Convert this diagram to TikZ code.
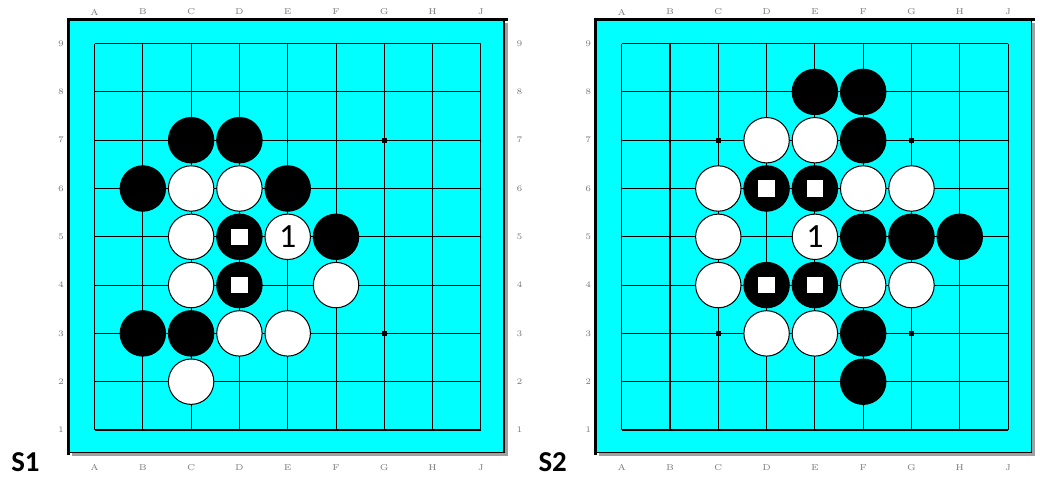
\documentclass[tikz,border=0pt]{standalone}
\usepackage{fontspec}
\newfontfamily\stonefont{Carlito}
\usetikzlibrary{positioning}
\definecolor{boardcyan}{HTML}{00FFFF}
\definecolor{shadowgray}{HTML}{A0A0A0}
\definecolor{labelgray}{HTML}{7A7A7A}

\tikzset{
  gridline/.style={line width=0.6pt},
  bstone/.style={circle, draw=black, fill=black, line width=0.6pt, minimum size=0.94cm, inner sep=0pt},
  wstone/.style={circle, draw=black, fill=white, line width=0.6pt, minimum size=0.94cm, inner sep=0pt,
    font=\stonefont\fontsize{20}{20}\selectfont},
  marker/.style={fill=white, minimum size=0.34cm, inner sep=0pt},
  starpoint/.style={fill=black, minimum size=0.1cm, inner sep=0pt},
  coordlabel/.style={font=\fontsize{5}{5}\selectfont, text=labelgray, inner sep=0pt},
  boardname/.style={font=\stonefont\bfseries\fontsize{17}{17}\selectfont, inner sep=0pt},
}

\begin{document}
\begin{tikzpicture}
    \useasboundingbox (-1.957,-1.014) rectangle (19.576,8.903);

    % Two boards: frame, grid, star points, coordinates
    \foreach \b/\off in {1/0, 2/10.915} {
      \begin{scope}[xshift=\off cm]
        \fill[shadowgray] (-0.466,-0.538) rectangle (8.555,8.427);
        \fill[boardcyan] (-0.528,-0.476) rectangle (8.478,8.489);
        \draw[line width=0.6pt] (-0.528,-0.476) -- (8.478,-0.476) -- (8.478,8.495);
        \draw[line width=1.8pt] (-0.534,-0.518) -- (-0.534,8.495) -- (8.555,8.495);
        \foreach \i in {0,...,8} {
          \draw[gridline] (\i,0) -- (\i,8);
          \draw[gridline] (0,\i) -- (8,\i);
        }
        \foreach \x/\y in {2/2, 2/6, 6/2, 6/6}
          \node[starpoint] (b\b-star-\x-\y) at (\x,\y) {};
        \foreach \c [count=\i from 0] in {A,B,C,D,E,F,G,H,J} {
          \node[coordlabel] (b\b-top-\c) at (\i,8.654) {\c};
          \node[coordlabel] (b\b-bot-\c) at (\i,-0.78) {\c};
        }
        \foreach \r in {1,...,9}
          \node[coordlabel] (b\b-left-\r) at (-0.694,\r-1) {\r};
      \end{scope}
    }
    % right-hand row numbers (first board only)
    \foreach \r in {1,...,9}
      \node[coordlabel] (b1-right-\r) at (8.8,\r-1) {\r};

    % Board S1
    \foreach \x/\y in {2/6, 3/6, 1/5, 4/5, 3/4, 5/4, 3/3, 1/2, 2/2}
      \node[bstone] (b1-\x-\y) at (\x,\y) {};
    \foreach \x/\y in {2/5, 3/5, 2/4, 2/3, 5/3, 3/2, 4/2, 2/1}
      \node[wstone] (b1-\x-\y) at (\x,\y) {};
    \node[wstone] (b1-4-4) at (4,4) {1};
    \node[marker] (m1-3-4) at (b1-3-4) {};
    \node[marker] (m1-3-3) at (b1-3-3) {};
    \node[boardname] (s1) at (-1.43,-0.66) {S1};

    % Board S2
    \begin{scope}[xshift=10.915cm]
      \foreach \x/\y in {4/7, 5/7, 5/6, 3/5, 4/5, 5/4, 6/4, 7/4, 3/3, 4/3, 5/2, 5/1}
        \node[bstone] (b2-\x-\y) at (\x,\y) {};
      \foreach \x/\y in {3/6, 4/6, 2/5, 5/5, 6/5, 2/4, 2/3, 5/3, 6/3, 3/2, 4/2}
        \node[wstone] (b2-\x-\y) at (\x,\y) {};
      \node[wstone] (b2-4-4) at (4,4) {1};
      \foreach \x/\y in {3/5, 4/5, 3/3, 4/3}
        \node[marker] (m2-\x-\y) at (b2-\x-\y) {};
      \node[boardname] (s2) at (-1.43,-0.66) {S2};
    \end{scope}
\end{tikzpicture}
\end{document}
